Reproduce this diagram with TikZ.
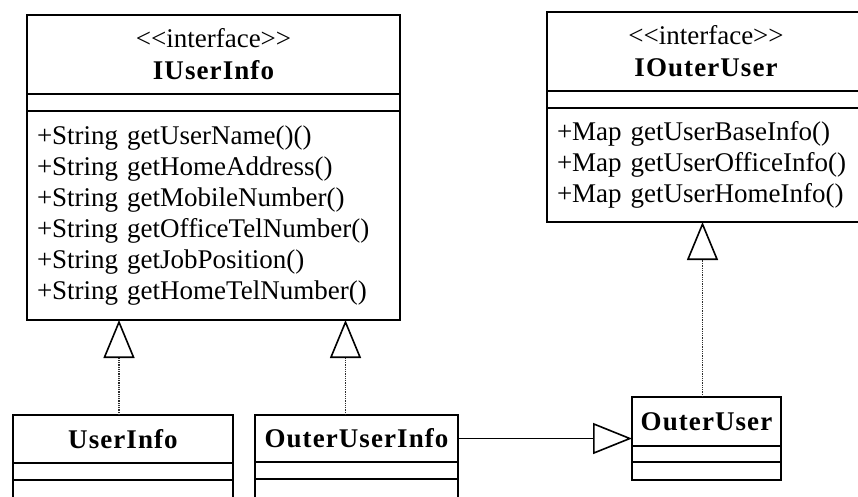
\documentclass[tikz,border=0pt]{standalone}
\usepackage{fontspec}
\setmainfont{Liberation Serif}
\newfontfamily\umltitle{Liberation Serif}[LetterSpace=4]
\usetikzlibrary{arrows.meta,positioning}
\newcommand{\stereo}{<\kern0pt<interface>\kern0pt>}
\newcommand{\classname}[1]{{\umltitle\bfseries #1}}
\tikzset{
  classbox/.style={draw, line width=1.7pt, inner sep=0pt, outer sep=0pt},
  headpart/.style={classbox, align=center, font=\fontsize{27}{32}\selectfont},
  emptypart/.style={classbox, minimum height=17pt},
  methodpart/.style={classbox, align=left, inner xsep=10pt, font=\fontsize{27}{31}\selectfont},
  realize/.style={line width=1.1pt, gray!35!black, dash pattern=on 1pt off 0.8pt,
    -{Triangle[open, length=38pt, width=31pt, line width=1.6pt, black]}},
  inherit/.style={line width=1.5pt,
    -{Triangle[open, length=39pt, width=31pt, line width=1.6pt]}}
}
\begin{document}
\begin{tikzpicture}[x=1pt,y=-1pt]
  \clip (0,0) rectangle (858,496);
  % interfaces
  \node[headpart, minimum width=373pt, minimum height=79pt, anchor=north west] (iuserhead) at (27,15) {\stereo\\\classname{IUserInfo}};
  \node[emptypart, minimum width=373pt, below=0pt of iuserhead] (iuserattr) {};
  \node[methodpart, text width=353pt, minimum height=209pt, below=0pt of iuserattr] (iusermeth) {+String getUserName()()\\+String getHomeAddress()\\+String getMobileNumber()\\+String getOfficeTelNumber()\\+String getJobPosition()\\+String getHomeTelNumber()};
  \node[headpart, minimum width=318pt, minimum height=79pt, anchor=north west] (iouterhead) at (547,12) {\stereo\\\classname{IOuterUser}};
  \node[emptypart, minimum width=318pt, below=0pt of iouterhead] (iouterattr) {};
  \node[methodpart, text width=298pt, minimum height=114pt, below=0pt of iouterattr] (ioutermeth) {+Map getUserBaseInfo()\\+Map getUserOfficeInfo()\\+Map getUserHomeInfo()};
  % classes
  \node[headpart, minimum width=220pt, minimum height=48pt, anchor=north west] (userinfohead) at (13,415) {\classname{UserInfo}};
  \node[emptypart, minimum width=220pt, below=0pt of userinfohead] (userinfoattr) {};
  \node[emptypart, minimum width=220pt, minimum height=40pt, below=0pt of userinfoattr] (userinfometh) {};
  \node[headpart, minimum width=203pt, minimum height=47pt, anchor=north west] (outerinfohead) at (255,415) {\classname{OuterUserInfo}};
  \node[emptypart, minimum width=203pt, below=0pt of outerinfohead] (outerinfoattr) {};
  \node[emptypart, minimum width=203pt, minimum height=40pt, below=0pt of outerinfoattr] (outerinfometh) {};
  \node[headpart, minimum width=149pt, minimum height=49pt, anchor=north west] (outeruserhead) at (632,397) {\classname{OuterUser}};
  \node[emptypart, minimum width=149pt, minimum height=16pt, below=0pt of outeruserhead] (outeruserattr) {};
  \node[emptypart, minimum width=149pt, minimum height=18pt, below=0pt of outeruserattr] (outerusermeth) {};
  % relations
  \draw[realize] ([xshift=-4pt]userinfohead.north) -- ([xshift=-4pt]userinfohead.north |- iusermeth.south);
  \draw[realize] ([xshift=-11pt]outerinfohead.north) -- ([xshift=-11pt]outerinfohead.north |- iusermeth.south);
  \draw[realize] ([xshift=-4pt]outeruserhead.north) -- ([xshift=-4pt]outeruserhead.north |- ioutermeth.south);
  \draw[inherit] (outerinfohead.east) -- (outerinfohead.east -| outeruserhead.west);
\end{tikzpicture}
\end{document}
